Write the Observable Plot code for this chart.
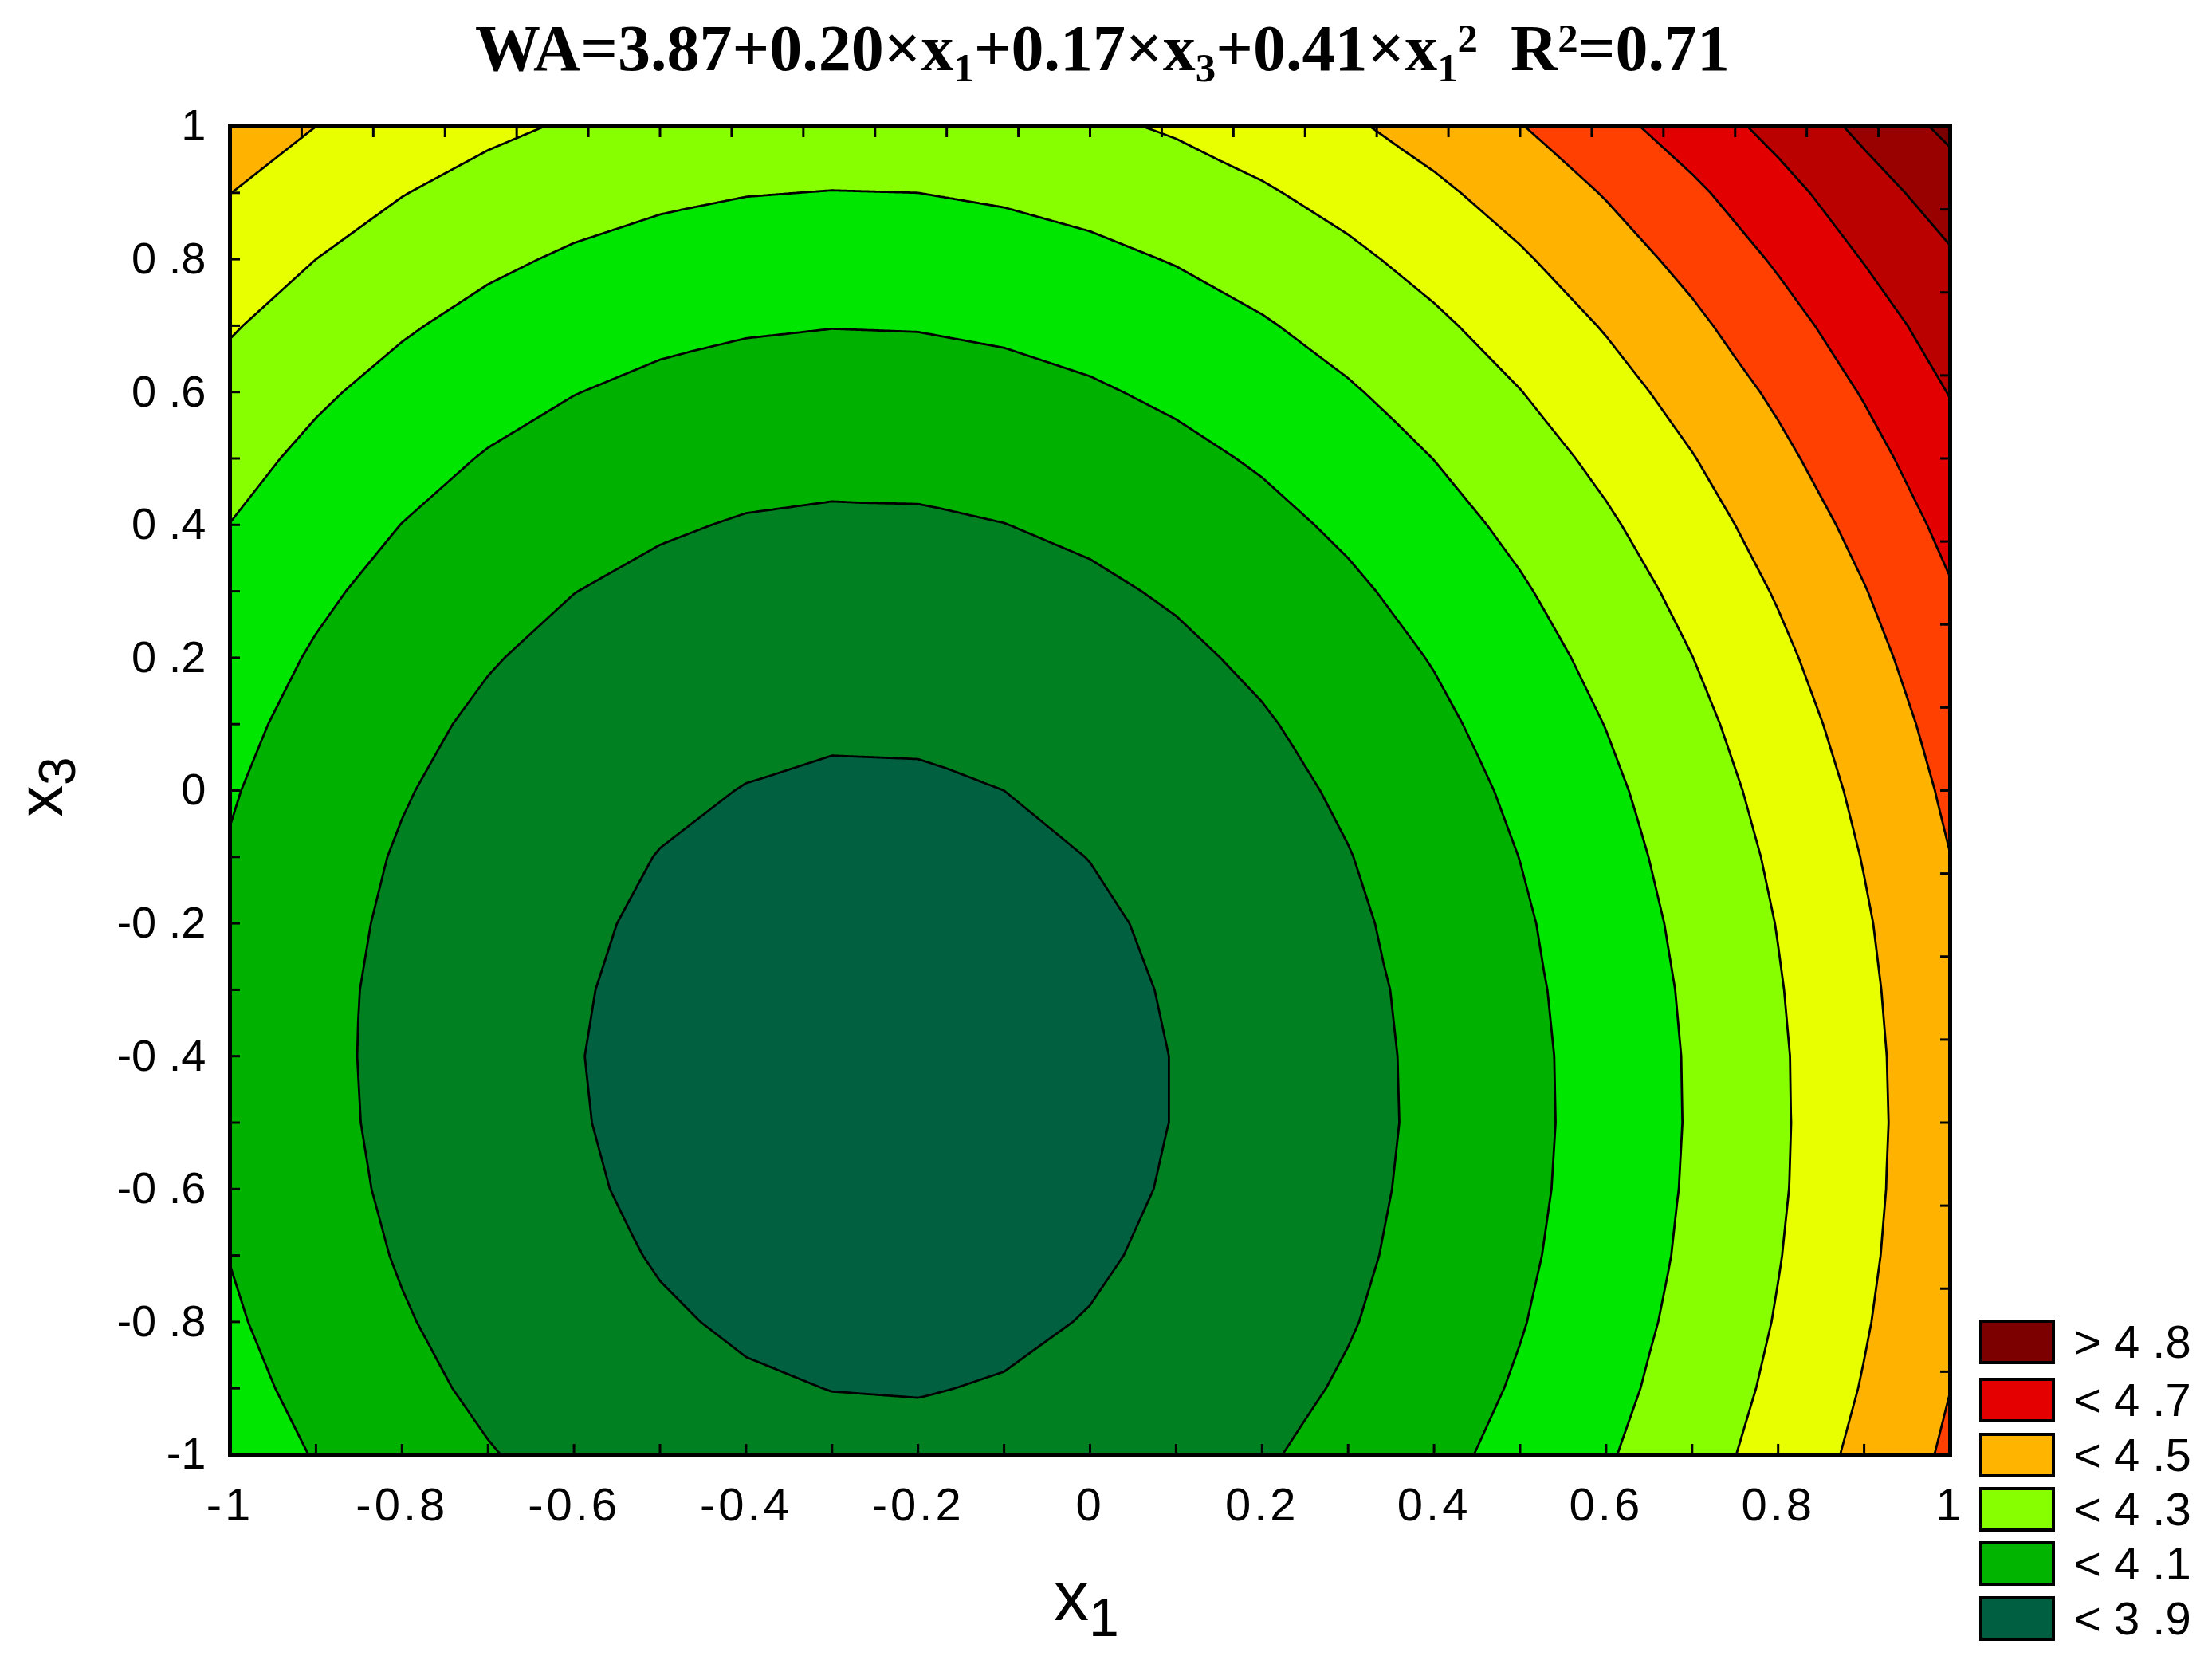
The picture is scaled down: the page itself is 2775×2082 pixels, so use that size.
<!DOCTYPE html>
<html>
<head>
<meta charset="utf-8">
<script src="https://cdn.jsdelivr.net/npm/d3@7"></script>
<script src="https://cdn.jsdelivr.net/npm/@observablehq/plot@0.6"></script>
<style>
  html, body { margin: 0; padding: 0; background: #fff; }
  #root { position: relative; width: 2775px; height: 2082px; overflow: hidden; background: #fff; font-family: "Liberation Sans", Arial, sans-serif; color: #000; }
  #title { position: absolute; left: 0; top: 20px; width: 2766px; text-align: center; font-family: "Liberation Serif", "Times New Roman", serif; font-weight: bold; font-size: 82px; line-height: 82px; white-space: nowrap; }
  #title .sb { font-size: 0.62em; position: relative; top: 0.28em; }
  #title .sp { font-size: 0.62em; position: relative; top: -0.45em; }
  #xlabel { position: absolute; left: 1322px; top: 1958px; font-size: 88px; line-height: 88px; white-space: nowrap; }
  #xlabel .sb { font-size: 68px; position: relative; top: 20px; }
  #legend { position: absolute; left: 2483px; top: 1655px; }
  .lg-row { position: absolute; left: 0; height: 56px; width: 290px; }
  .lg-box { position: absolute; left: 0; top: 0; width: 87px; height: 48px; border: 4px solid #000; }
  .lg-txt { position: absolute; left: 119px; top: 0; height: 56px; line-height: 56px; font-size: 58px; white-space: pre; }
  svg.main { position: absolute; left: 0; top: 100px; }
  svg.main g[aria-label="x-axis tick label"] text { letter-spacing: 4px; }
</style>
</head>
<body>
<div id="root"></div>
<script>
const x1Values = [-1, -0.9, -0.8, -0.7, -0.6, -0.5, -0.4, -0.3, -0.2, -0.1, 0, 0.1, 0.2, 0.3, 0.4, 0.5, 0.6, 0.7, 0.8, 0.9, 1];
const x3Values = [-1, -0.9, -0.8, -0.7, -0.6, -0.5, -0.4, -0.3, -0.2, -0.1, 0, 0.1, 0.2, 0.3, 0.4, 0.5, 0.6, 0.7, 0.8, 0.9, 1];
// one row per x3 value (bottom to top), one column per x1 value (left to right)
const waRows = [
  [4.152, 4.095, 4.046, 4.005, 3.971, 3.946, 3.929, 3.919, 3.918, 3.924, 3.938, 3.961, 3.991, 4.029, 4.075, 4.129, 4.191, 4.260, 4.338, 4.424, 4.517],
  [4.130, 4.073, 4.024, 3.983, 3.950, 3.925, 3.908, 3.899, 3.897, 3.904, 3.919, 3.941, 3.971, 4.010, 4.056, 4.110, 4.172, 4.242, 4.320, 4.406, 4.499],
  [4.112, 4.055, 4.007, 3.966, 3.933, 3.908, 3.891, 3.882, 3.881, 3.888, 3.903, 3.925, 3.956, 3.994, 4.041, 4.095, 4.157, 4.228, 4.306, 4.392, 4.486],
  [4.098, 4.041, 3.993, 3.952, 3.920, 3.895, 3.878, 3.870, 3.869, 3.876, 3.891, 3.914, 3.944, 3.983, 4.030, 4.084, 4.147, 4.217, 4.296, 4.382, 4.476],
  [4.087, 4.031, 3.983, 3.943, 3.910, 3.886, 3.869, 3.861, 3.860, 3.867, 3.883, 3.906, 3.937, 3.976, 4.023, 4.077, 4.140, 4.211, 4.289, 4.376, 4.470],
  [4.081, 4.025, 3.977, 3.937, 3.905, 3.881, 3.864, 3.856, 3.856, 3.863, 3.878, 3.902, 3.933, 3.972, 4.019, 4.074, 4.137, 4.208, 4.287, 4.373, 4.468],
  [4.078, 4.023, 3.975, 3.935, 3.903, 3.879, 3.863, 3.855, 3.855, 3.863, 3.878, 3.902, 3.933, 3.973, 4.020, 4.075, 4.138, 4.209, 4.288, 4.375, 4.470],
  [4.080, 4.024, 3.977, 3.937, 3.906, 3.882, 3.866, 3.858, 3.858, 3.866, 3.882, 3.906, 3.937, 3.977, 4.024, 4.080, 4.143, 4.214, 4.294, 4.381, 4.476],
  [4.085, 4.030, 3.983, 3.943, 3.912, 3.888, 3.873, 3.865, 3.865, 3.873, 3.889, 3.913, 3.945, 3.985, 4.033, 4.088, 4.152, 4.223, 4.303, 4.390, 4.485],
  [4.094, 4.039, 3.992, 3.953, 3.922, 3.898, 3.883, 3.876, 3.876, 3.884, 3.901, 3.925, 3.957, 3.997, 4.045, 4.101, 4.165, 4.236, 4.316, 4.404, 4.499],
  [4.107, 4.053, 4.006, 3.967, 3.936, 3.913, 3.898, 3.890, 3.891, 3.900, 3.916, 3.940, 3.973, 4.013, 4.061, 4.117, 4.181, 4.253, 4.333, 4.421, 4.517],
  [4.124, 4.070, 4.023, 3.984, 3.954, 3.931, 3.916, 3.909, 3.910, 3.918, 3.935, 3.960, 3.992, 4.033, 4.081, 4.138, 4.202, 4.274, 4.354, 4.442, 4.538],
  [4.145, 4.091, 4.045, 4.006, 3.975, 3.953, 3.938, 3.931, 3.932, 3.941, 3.958, 3.983, 4.016, 4.057, 4.105, 4.162, 4.226, 4.299, 4.379, 4.467, 4.563],
  [4.170, 4.116, 4.070, 4.032, 4.001, 3.979, 3.964, 3.958, 3.959, 3.968, 3.985, 4.010, 4.043, 4.084, 4.133, 4.190, 4.255, 4.327, 4.408, 4.496, 4.593],
  [4.199, 4.145, 4.099, 4.061, 4.031, 4.009, 3.994, 3.988, 3.989, 3.999, 4.016, 4.042, 4.075, 4.116, 4.165, 4.222, 4.287, 4.360, 4.440, 4.529, 4.626],
  [4.231, 4.178, 4.132, 4.094, 4.064, 4.042, 4.028, 4.022, 4.024, 4.033, 4.051, 4.077, 4.110, 4.151, 4.201, 4.258, 4.323, 4.396, 4.477, 4.566, 4.663],
  [4.268, 4.214, 4.169, 4.131, 4.102, 4.080, 4.066, 4.060, 4.062, 4.072, 4.090, 4.116, 4.149, 4.191, 4.240, 4.298, 4.363, 4.436, 4.517, 4.607, 4.704],
  [4.308, 4.255, 4.210, 4.172, 4.143, 4.121, 4.108, 4.102, 4.104, 4.114, 4.132, 4.158, 4.192, 4.234, 4.284, 4.341, 4.407, 4.480, 4.562, 4.651, 4.748],
  [4.353, 4.300, 4.255, 4.217, 4.188, 4.167, 4.153, 4.148, 4.150, 4.161, 4.179, 4.205, 4.239, 4.281, 4.331, 4.389, 4.455, 4.528, 4.612, 4.704, 4.788],
  [4.401, 4.348, 4.303, 4.266, 4.237, 4.216, 4.203, 4.198, 4.200, 4.211, 4.229, 4.256, 4.290, 4.332, 4.382, 4.440, 4.506, 4.582, 4.666, 4.758, 4.846],
  [4.453, 4.400, 4.356, 4.319, 4.290, 4.269, 4.256, 4.251, 4.254, 4.265, 4.284, 4.310, 4.345, 4.387, 4.438, 4.496, 4.570, 4.646, 4.730, 4.822, 4.925]
];

// contour levels and band colours
const levels = [3.8, 3.9, 4.0, 4.1, 4.2, 4.3, 4.4, 4.5, 4.6, 4.7, 4.8, 4.9];
const bandBreaks = [3.85, 3.95, 4.05, 4.15, 4.25, 4.35, 4.45, 4.55, 4.65, 4.75, 4.85];
const bandColors = ["#006040", "#008020", "#00b100", "#00e600", "#88ff00", "#e8ff00", "#ffb300", "#ff4000", "#e20000", "#bb0000", "#990000", "#7a0000"];

// axes
const xTickValues = [-1, -0.8, -0.6, -0.4, -0.2, 0, 0.2, 0.4, 0.6, 0.8, 1];
const yTickValues = [-1, -0.8, -0.6, -0.4, -0.2, 0, 0.2, 0.4, 0.6, 0.8, 1];
const bottomMinorTicks = x1Values;
const leftMinorTicks = x3Values;
const topMinorTicks = d3.range(-12, 13).map(i => i / 12);
const rightMinorTicks = d3.range(-8, 9).map(i => i / 8);

// legend
const legendOps = [">", "<", "<", "<", "<", "<"];
const legendValues = [4.8, 4.7, 4.5, 4.3, 4.1, 3.9];
const legendColors = ["#7d0000", "#e40000", "#ffb400", "#88ff00", "#00b400", "#005f40"];

// ---- build ----
const grid = [];
x3Values.forEach((x3, j) => x1Values.forEach((x1, i) => grid.push({x1, x3, wa: waRows[j][i]})));

const spaced = v => String(v).replace(".", " .");
const fmtX = v => String(v);

const root = document.getElementById("root");

const title = document.createElement("div");
title.id = "title";
title.innerHTML = 'WA=3.87+0.20×x<span class="sb">1</span>+0.17×x<span class="sb">3</span>+0.41×x<span class="sb">1</span><span class="sp">2</span>&nbsp;&nbsp;R<span class="sp">2</span>=0.71';
root.appendChild(title);

const svgTop = 100;
const chart = Plot.plot({
  width: 2775,
  height: 2082 - svgTop,
  marginLeft: 288,
  marginRight: 329,
  marginTop: 58,
  marginBottom: 258,
  x: {domain: [-1, 1], label: null},
  y: {domain: [-1, 1], label: null},
  color: {type: "threshold", domain: bandBreaks, range: bandColors},
  style: {fontFamily: "'Liberation Sans', Arial, sans-serif", fontSize: "56px", color: "#000", background: "transparent", overflow: "visible"},
  marks: [
    Plot.frame({fill: bandColors[0]}),
    Plot.contour(grid, {x: "x1", y: "x3", fill: "wa", thresholds: levels, interpolate: "barycentric", stroke: "#000", strokeWidth: 2.8, clip: true}),
    Plot.axisX(bottomMinorTicks, {anchor: "bottom", tickSize: 13, dy: -13, text: null, label: null, strokeWidth: 3}),
    Plot.axisX(topMinorTicks, {anchor: "top", tickSize: 13, dy: 13, text: null, label: null, strokeWidth: 3}),
    Plot.axisY(leftMinorTicks, {anchor: "left", tickSize: 13, dx: 13, text: null, label: null, strokeWidth: 3}),
    Plot.axisY(rightMinorTicks, {anchor: "right", tickSize: 13, dx: -13, text: null, label: null, strokeWidth: 3}),
    Plot.axisX(xTickValues, {anchor: "bottom", tickSize: 0, tickPadding: 41, tickFormat: fmtX, fontSize: 58, label: null}),
    Plot.axisY(yTickValues, {anchor: "left", tickSize: 0, tickPadding: 30, tickFormat: spaced, fontSize: 56, label: null}),
    Plot.frame({stroke: "#000", strokeWidth: 5})
  ]
});
chart.classList.add("main");
root.appendChild(chart);

// axis titles
const xl = document.createElement("div");
xl.id = "xlabel";
xl.innerHTML = 'x<span class="sb">1</span>';
root.appendChild(xl);

const overlay = d3.select(root).append("svg")
  .attr("width", 2775).attr("height", 2082)
  .style("position", "absolute").style("left", 0).style("top", 0)
  .style("pointer-events", "none");
const yl = overlay.append("text")
  .attr("transform", "translate(78,1025) rotate(-90)")
  .attr("font-family", "'Liberation Sans', Arial, sans-serif")
  .attr("font-size", 80)
  .attr("fill", "#000");
yl.append("tspan").text("x");
yl.append("tspan").attr("dy", 16).attr("font-size", 64).text("3");

// legend
const lg = document.createElement("div");
lg.id = "legend";
const rowTops = [0, 73, 142, 210, 278, 347];
legendValues.forEach((v, i) => {
  const row = document.createElement("div");
  row.className = "lg-row";
  row.style.top = rowTops[i] + "px";
  const box = document.createElement("div");
  box.className = "lg-box";
  box.style.background = legendColors[i];
  const txt = document.createElement("div");
  txt.className = "lg-txt";
  txt.textContent = legendOps[i] + " " + spaced(v);
  row.appendChild(box);
  row.appendChild(txt);
  lg.appendChild(row);
});
root.appendChild(lg);
</script>
</body>
</html>
